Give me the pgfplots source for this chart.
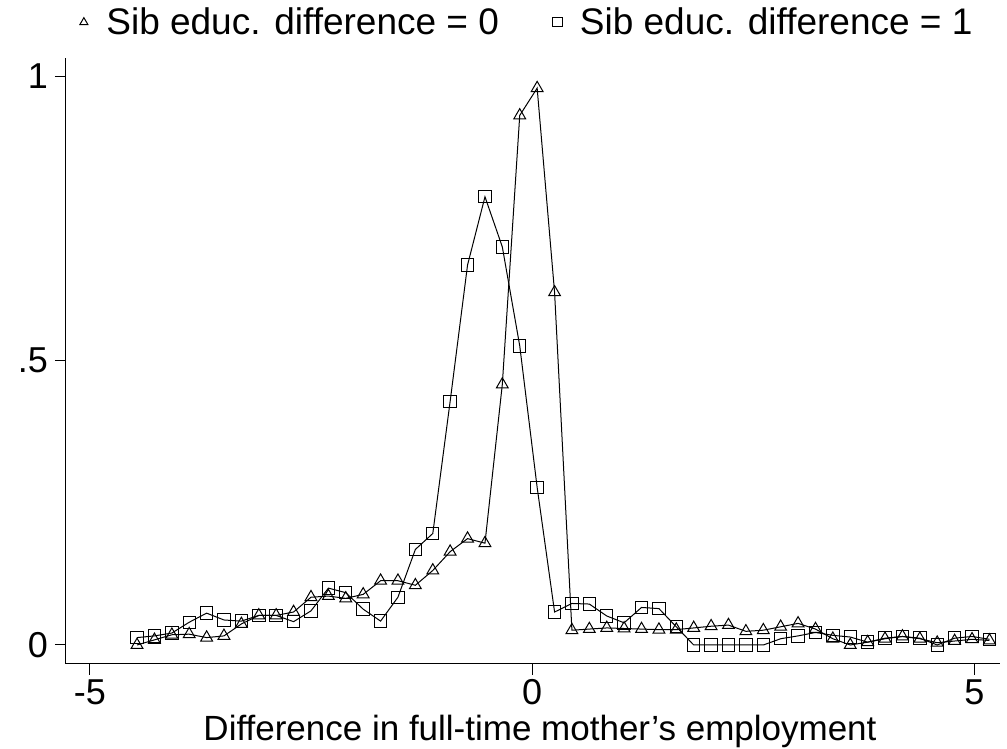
\documentclass[border=0pt]{standalone}
\usepackage{fontspec}
\setmainfont{Liberation Sans}
\usepackage{pgfplots}
\pgfplotsset{compat=1.18}
\usepackage{pgfplotstable}

\pgfplotstableread{
x y
-4.467 0.000
-4.270 0.009
-4.073 0.018
-3.877 0.019
-3.680 0.013
-3.484 0.016
-3.287 0.037
-3.090 0.052
-2.894 0.052
-2.697 0.058
-2.500 0.084
-2.303 0.086
-2.107 0.082
-1.910 0.089
-1.713 0.113
-1.517 0.113
-1.320 0.105
-1.123 0.131
-0.927 0.164
-0.730 0.187
-0.533 0.179
-0.337 0.458
-0.140 0.931
0.057 0.979
0.254 0.620
0.450 0.026
0.647 0.028
0.844 0.030
1.040 0.029
1.237 0.028
1.434 0.027
1.630 0.027
1.827 0.030
2.024 0.033
2.220 0.035
2.417 0.024
2.614 0.026
2.810 0.032
3.007 0.038
3.204 0.028
3.400 0.011
3.597 0.000
3.794 0.005
3.990 0.011
4.187 0.015
4.384 0.011
4.580 0.004
4.777 0.007
4.974 0.010
5.171 0.008
}\tri

\pgfplotstableread{
x y
-4.467 0.013
-4.270 0.016
-4.073 0.021
-3.877 0.040
-3.680 0.056
-3.484 0.044
-3.287 0.042
-3.090 0.052
-2.894 0.052
-2.697 0.041
-2.500 0.060
-2.303 0.100
-2.107 0.092
-1.910 0.063
-1.713 0.042
-1.517 0.084
-1.320 0.168
-1.123 0.196
-0.927 0.428
-0.730 0.668
-0.533 0.788
-0.337 0.700
-0.140 0.526
0.057 0.277
0.254 0.058
0.450 0.073
0.647 0.072
0.844 0.051
1.040 0.039
1.237 0.066
1.434 0.064
1.630 0.032
1.827 0.000
2.024 0.000
2.220 0.000
2.417 0.000
2.614 0.000
2.810 0.011
3.007 0.016
3.204 0.022
3.400 0.017
3.597 0.014
3.794 0.005
3.990 0.012
4.187 0.015
4.384 0.012
4.580 0.000
4.777 0.012
4.974 0.015
5.171 0.010
}\sqr

\begin{document}
\begin{tikzpicture}[font=\fontsize{18pt}{21pt}\selectfont]
\path[use as bounding box] (-33pt,-42.5pt) rectangle (470.5pt,332pt);
\begin{axis}[
  at={(0pt,0pt)}, anchor=south west,
  scale only axis, width=467pt, height=303pt,
  xmin=-5.27, xmax=5.29, ymin=-0.0334, ymax=1.032,
  axis lines=left,
  axis line style={-, line width=0.5pt, black},
  xtick={-5,0,5}, xticklabels={-5,0,5},
  ytick={0,0.5,1}, yticklabels={0,.5,1},
  xticklabel style={yshift=-1pt, inner sep=1pt},
  tick align=outside, major tick length=5.5pt,
  tick style={black, line width=0.5pt},
  xlabel={Difference in full-time mother’s employment},
  xlabel style={at={(axis description cs:0.5075,-0.112)}, anchor=center, inner sep=0pt,
    font=\fontsize{17.5pt}{20pt}\selectfont},
  legend style={draw=none, fill=none, at={(0.4935,1.059)}, anchor=center,
    legend columns=2, /tikz/every even column/.append style={column sep=24pt},
    font=\fontsize{18.5pt}{21pt}\selectfont},
  legend image code/.code={\path (-3pt,0pt) (9pt,0pt); \draw[#1, only marks, mark size=2.3pt] plot coordinates {(0pt,0pt)};},
]
\addplot[black, line width=0.5pt, mark=triangle, mark size=3.4pt, mark options={solid, line width=0.5pt}] table {\tri};
\addlegendentry{Sib educ. difference = 0}
\addplot[black, line width=0.5pt, mark=square, mark size=3.1pt, mark options={solid, line width=0.5pt}] table {\sqr};
\addlegendentry{Sib educ. difference = 1}
\end{axis}
\end{tikzpicture}
\end{document}
